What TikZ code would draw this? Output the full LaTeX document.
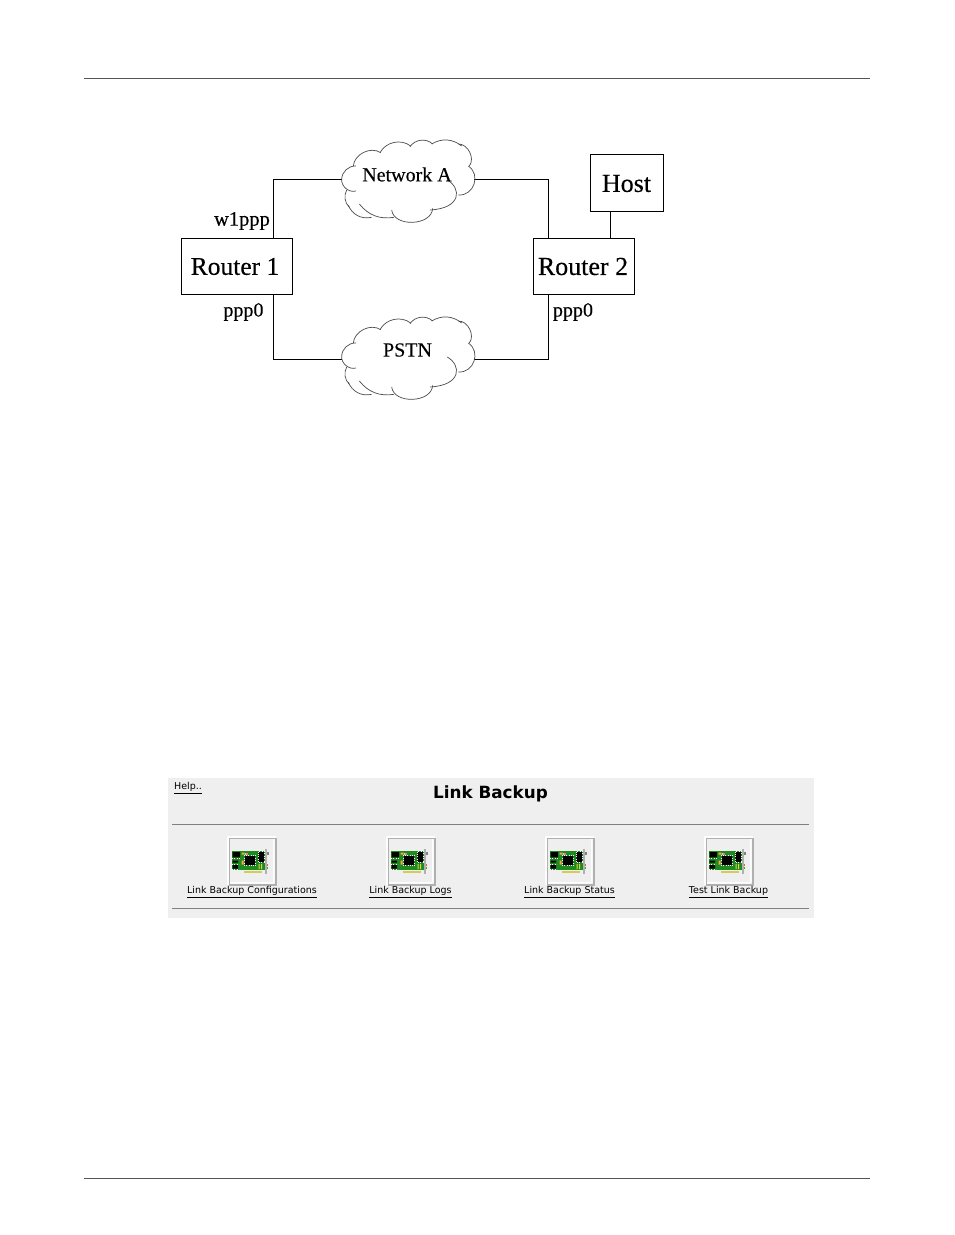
\documentclass[tikz,border=0pt]{standalone}
\usepackage{fontspec}
\setmainfont[FakeBold=0.25]{Liberation Serif}
\newfontfamily\uifont{DejaVu Sans}
\definecolor{panel}{HTML}{EFEFEF}
\definecolor{rulegray}{HTML}{808080}
\definecolor{pagerule}{HTML}{555555}
\definecolor{cloudline}{HTML}{4A4A4A}
\definecolor{cardgreen}{HTML}{1F8A1F}
\definecolor{framegray}{HTML}{B0B0B0}
\newcommand{\fsz}[1]{\fontsize{#1}{#1}\selectfont}
\newcommand{\cloudshape}{%
  \draw[cloudstroke] (35,148) to[bend left=45] (78,108);
  \draw[cloudstroke] (70,108) to[bend left=60] (152,68);
  \draw[cloudstroke] (150,68) to[bend left=50] (242,48);
  \draw[cloudstroke] (240,50) to[bend left=50] (308,42);
  \draw[cloudstroke] (305,42) to[bend left=35] (395,48);
  \draw[cloudstroke] (385,42) to[bend left=65] (418,108);
  \draw[cloudstroke] (415,108) to[bend left=75,looseness=1.3] (385,195);
  \draw[cloudstroke] (352,150) .. controls (395,175) and (395,235) .. (300,240);
  \draw[cloudstroke] (308,235) to[bend left=85,looseness=1.1] (185,240);
  \draw[cloudstroke] (192,262) to[bend left=30] (88,222);
  \draw[cloudstroke] (125,262) to[bend left=40] (55,226);
  \draw[cloudstroke] (58,232) to[bend left=35] (50,180);
  \draw[cloudstroke] (78,183) to[bend left=55] (35,148);
}
\newcommand{\cardicon}[1]{%
 \begin{scope}[shift={(#1,836)}]
  \fill[white!90!panel] (0,0) rectangle (49,49);
  \fill[framegray] (2,2) rectangle (49.5,49.5);
  \fill[panel] (3,3) rectangle (47.5,47.5);
  \fill[white!90!panel] (3,47.5) rectangle (47.5,46) (46,3) rectangle (47.5,47.5);
  \fill[cardgreen] (4.7,15) rectangle (38,34);
  \fill[black] (5.7,16) rectangle (13,21.3) (5.7,24.5) rectangle (11,26.5) (5.7,29) rectangle (11,32.7);
  \fill[black] (18,20) rectangle (28,29) (31.3,16) rectangle (37,26);
  \draw[white,line width=.4pt,dotted] (17.4,19.4) rectangle (28.6,29.6) (30.8,15.5) rectangle (37.5,26.5);
  \draw[white,line width=.4pt,dotted] (4.8,22) -- (13,22) (4.8,28) -- (12,28) (4.8,33.2) -- (12,33.2);
  \fill[orange!70!white] (14.5,16.5) rectangle (17.5,18.5) (14.5,24.5) rectangle (16.5,28.5);
  \fill[cyan!40!white] (17.5,16.5) rectangle (19,18.5);
  \fill[red!55!white] (19,16.5) rectangle (20.5,18.5);
  \fill[yellow!70!gray] (31.5,28) rectangle (32.5,33) (34,28) rectangle (35,33);
  \fill[framegray] (38,13) rectangle (40,38);
  \fill[gray] (40,16) rectangle (41.7,18.7);
  \fill[red!70!white] (40,28) rectangle (41.3,30);
  \fill[green!80!black] (40,31) rectangle (41.3,33);
  \fill[yellow!60!gray] (17,34.5) rectangle (35,37);
 \end{scope}}
\tikzset{
  cloudstroke/.style={draw=cloudline,line width=.7pt},
  boxnode/.style={draw,line width=.9pt,inner sep=0pt,fill=white},
  cloudnode/.style={inner sep=0pt,minimum width=132pt,minimum height=60pt},
  link/.style={line width=.9pt},
  serif/.style={font=\fsz{20},inner sep=0pt},
  uilabel/.style={font=\uifont\fsz{9.5},inner sep=0pt,text=black},
  panelrule/.style={draw=rulegray,line width=1pt},
  pagerulestyle/.style={draw=pagerule,line width=.8pt}
}
\begin{document}
\begin{tikzpicture}[x=1pt,y=-1pt]
\useasboundingbox[fill=white] (0,0) rectangle (954,1235);
\draw[pagerulestyle] (84,78.5) -- (870,78.5);
\draw[pagerulestyle] (84,1178.5) -- (870,1178.5);
% network
\node[cloudnode] (neta) at (408,179) {};
\node[cloudnode] (pstn) at (408,359) {};
\node[boxnode,minimum width=111pt,minimum height=56pt] (r1) at (236.5,266) {};
\node[boxnode,minimum width=101pt,minimum height=56pt] (r2) at (583.5,266) {};
\node[boxnode,minimum width=73pt,minimum height=57pt] (host) at (626.5,182.5) {};
\node[serif,font=\fsz{25.5}] (r1txt) at (235,266.5) {Router 1};
\node[serif,font=\fsz{26}] (r2txt) at (583,266.5) {Router 2};
\node[serif,font=\fsz{26}] (hosttxt) at (626.5,183.5) {Host};
\coordinate (r1t) at (273,238);
\coordinate (r1b) at (273,294);
\coordinate (r2t) at (548,238);
\coordinate (r2b) at (548,294);
\coordinate (r2h) at (610.5,238);
\coordinate (hb) at (610.5,211);
\draw[link] (r1t) |- (neta.west);
\draw[link] (r1b) |- (pstn.west);
\draw[link] (r2t) |- (neta.east);
\draw[link] (r2b) |- (pstn.east);
\draw[link] (r2h) -- (hb);
\begin{scope}[shift={(330,130)},x=.3333pt,y=-.3333pt]\cloudshape\end{scope}
\begin{scope}[shift={(330,307)},x=.3333pt,y=-.3333pt]\cloudshape\end{scope}
\node[serif] (netatxt) at (407,174.5) {Network A};
\node[serif] (pstntxt) at (407.5,350) {PSTN};
\node[serif,font=\fsz{20.5}] (w1) at (242,221) {w1ppp};
\node[serif] (p0a) at (243.5,312) {ppp0};
\node[serif] (p0b) at (573,312) {ppp0};
% panel
\fill[panel] (168,778) rectangle (814,918);
\draw[panelrule] (172,824.5) -- (809,824.5);
\draw[panelrule] (172,908.5) -- (809,908.5);
\node[uilabel] (help) at (188,788) {\underline{Help..}};
\node[font=\uifont\bfseries\fsz{16.8},inner sep=0pt] (title) at (490.5,794) {Link Backup};
\cardicon{227}\cardicon{386}\cardicon{545}\cardicon{704}
\node[uilabel] (l1) at (252,892) {\underline{Link Backup Configurations}};
\node[uilabel] (l2) at (410.5,892) {\underline{Link Backup Logs}};
\node[uilabel] (l3) at (569.5,892) {\underline{Link Backup Status}};
\node[uilabel] (l4) at (728.5,892) {\underline{Test Link Backup}};
\end{tikzpicture}
\end{document}
